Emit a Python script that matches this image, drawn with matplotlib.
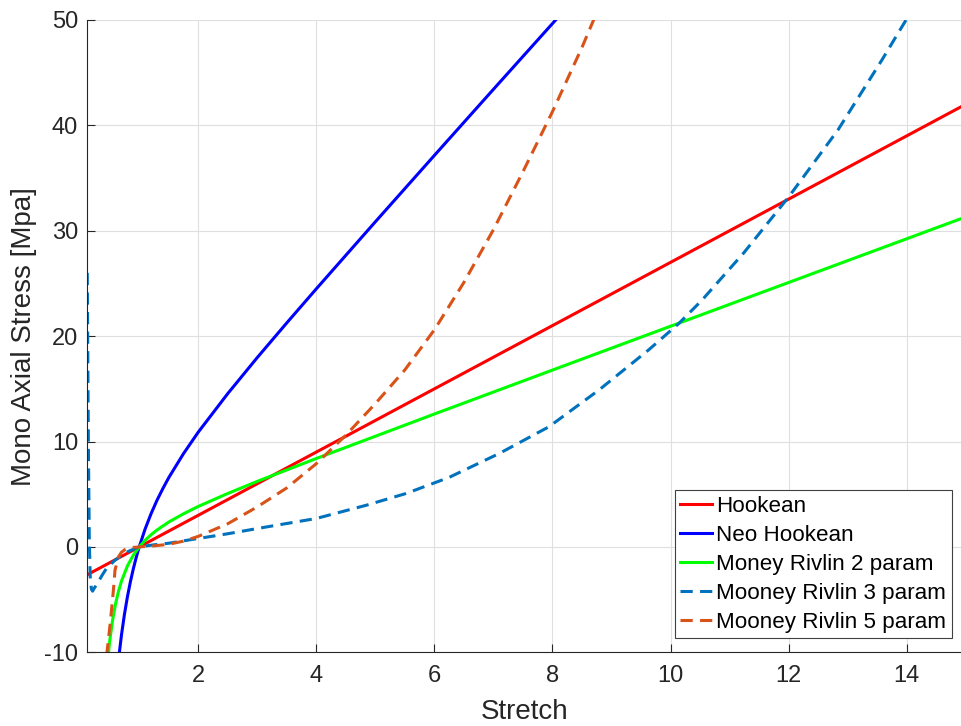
import matplotlib
matplotlib.use('Agg')
import matplotlib.pyplot as plt

plt.rcParams['font.family'] = ['Liberation Sans', 'DejaVu Sans']
plt.rcParams['axes.unicode_minus'] = False

# stretch / stress values
lam_hook = [0.1, 1.0, 5.0, 10.0, 15.0]
s_hook = [-2.7, 0.0, 12.0, 27.0, 42.0]

lam_neo = [0.6, 0.65, 0.7, 0.75, 0.8, 0.85, 0.9, 0.95, 1.0, 1.1, 1.2, 1.3, 1.4,
           1.5, 1.75, 2.0, 2.5, 3.0, 3.5, 4.0, 5.0, 6.0, 7.0, 8.0, 8.5]
s_neo = [-13.55, -10.68, -8.34, -6.39, -4.74, -3.32, -2.08, -0.98, 0.0, 1.70, 3.14, 4.41, 5.53,
         6.57, 8.85, 10.89, 14.55, 17.97, 21.26, 24.49, 30.85, 37.15, 43.42, 49.66, 52.78]

lam_mr2 = [0.45, 0.5, 0.55, 0.6, 0.65, 0.7, 0.8, 0.9, 1.0, 1.1, 1.2, 1.3, 1.5, 1.75,
           2.0, 2.5, 3.0, 4.0, 6.0, 8.0, 10.0, 12.0, 15.0]
s_mr2 = [-11.69, -8.93, -6.91, -5.38, -4.19, -3.24, -1.81, -0.78, 0.0, 0.63, 1.15, 1.60, 2.36, 3.14,
         3.84, 5.07, 6.22, 8.39, 12.61, 16.78, 20.94, 25.09, 31.31]

lam_mr3 = [0.12, 0.14, 0.155, 0.17, 0.19, 0.21, 0.24, 0.3, 0.37, 0.45, 0.59, 0.7, 0.82,
           1.0, 1.25, 1.5, 2.0, 2.5, 3.16, 4.0, 4.85, 5.52, 6.25, 7.1, 7.94, 8.79, 9.63,
           10.14, 10.53, 11.24, 12.0, 12.84, 13.58, 14.0, 14.3]
s_mr3 = [26.0, 9.0, 0.5, -2.8, -4.0, -4.2, -3.9, -3.4, -2.7, -2.0, -1.26, -0.8, -0.41,
         0.0, 0.2, 0.35, 0.8, 1.25, 1.9, 2.7, 3.96, 5.07, 6.6, 8.87, 11.4, 14.9, 18.7,
         21.2, 23.4, 27.9, 33.2, 39.6, 46.2, 50.1, 53.0]

lam_mr5 = [0.42, 0.452, 0.508, 0.563, 0.59, 0.648, 0.7, 0.76, 0.875, 1.0, 1.25, 1.5, 1.75,
           2.0, 2.5, 3.0, 3.5, 4.0, 4.5, 5.0, 5.5, 6.0, 6.5, 7.0, 7.5, 8.0, 8.5, 9.0]
s_mr5 = [-14.0, -10.1, -7.3, -4.1, -2.2, -0.95, -0.5, -0.25, -0.06, 0.0, 0.1, 0.25, 0.55,
         1.0, 2.2, 3.8, 5.6, 7.9, 10.6, 13.6, 16.8, 20.6, 25.1, 30.1, 35.6, 41.3, 47.4, 54.0]

labels = ['Hookean', 'Neo Hookean', 'Money Rivlin 2 param',
          'Mooney Rivlin 3 param', 'Mooney Rivlin 5 param']

fig = plt.figure(figsize=(9.61, 7.26), dpi=100)
ax = fig.add_axes([0.0908, 0.1015, 0.9092, 0.871])

lw = 2.2
ax.plot(lam_hook, s_hook, color='#FF0000', lw=lw, label=labels[0])
ax.plot(lam_neo, s_neo, color='#0000FF', lw=lw, label=labels[1])
ax.plot(lam_mr2, s_mr2, color='#00FF00', lw=lw, label=labels[2])
ax.plot(lam_mr3, s_mr3, color='#0072BD', lw=lw, dashes=(4, 2.4), label=labels[3])
ax.plot(lam_mr5, s_mr5, color='#D95319', lw=lw, dashes=(4, 2.4), label=labels[4])

ax.set_xlim(0.12, 14.92)
ax.set_ylim(-10, 50)
ax.set_xticks([2, 4, 6, 8, 10, 12, 14])
ax.set_yticks([-10, 0, 10, 20, 30, 40, 50])

ax.grid(True, color='#dfdfdf', lw=0.8)
ax.set_axisbelow(True)
for s in ['top', 'right']:
    ax.spines[s].set_visible(False)
for s in ['left', 'bottom']:
    ax.spines[s].set_color('#262626')
    ax.spines[s].set_linewidth(0.8)

ax.tick_params(axis='both', direction='in', length=5.8, width=0.8,
               color='#262626', labelcolor='#262626', labelsize=17)
ax.tick_params(axis='x', pad=9)
ax.tick_params(axis='y', pad=6.5)

ax.set_xlabel('Stretch', fontsize=20, color='#262626', labelpad=9)
ax.set_ylabel('Mono Axial Stress [Mpa]', fontsize=20, color='#262626')
ax.yaxis.set_label_coords(-0.057, 0.5)

leg = ax.legend(loc='lower right', bbox_to_anchor=(0.9894, 0.0221), borderaxespad=0,
                fontsize=16.1, labelspacing=0.36, handlelength=1.4, handletextpad=0.2,
                borderpad=0.25, fancybox=False, framealpha=1)
leg.get_frame().set_edgecolor('#404040')
leg.get_frame().set_linewidth(0.8)

plt.savefig('out.png', dpi=100)
